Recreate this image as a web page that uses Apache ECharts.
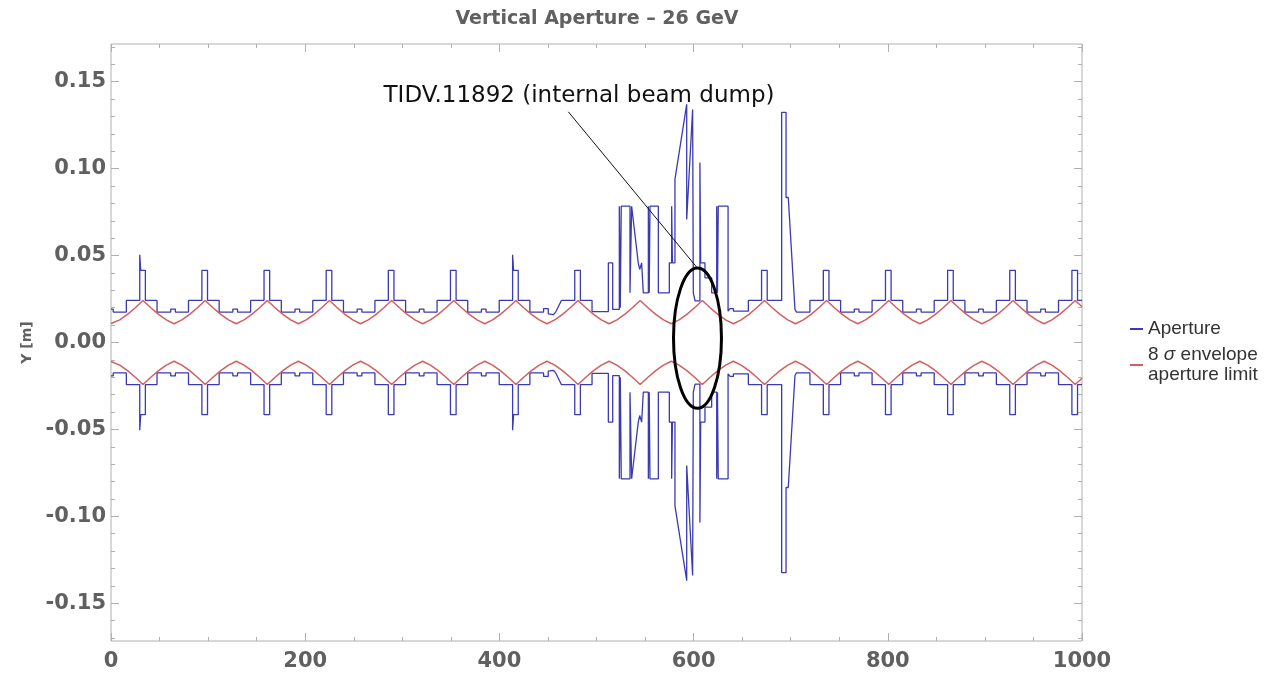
<!DOCTYPE html>
<html>
<head>
<meta charset="utf-8">
<script src="https://cdn.jsdelivr.net/npm/echarts/dist/echarts.min.js"></script>
<style>html,body{margin:0;padding:0;background:#fff;}#chart{width:1266px;height:676px;}</style>
</head>
<body>
<div id="chart"></div>
<script>
// ---------------- DATA ----------------
const titleText = 'Vertical Aperture \u2013 26 GeV';
const yAxisName = 'Y [m]';
const xTickLabels = [0, 200, 400, 600, 800, 1000];
const yTickLabels = [-0.15, -0.10, -0.05, 0.00, 0.05, 0.10, 0.15];
const yMinorTicks = [-0.17,-0.16,-0.14,-0.13,-0.12,-0.11,-0.09,-0.08,-0.07,-0.06,-0.04,-0.03,-0.02,-0.01,
                     0.01,0.02,0.03,0.04,0.06,0.07,0.08,0.09,0.11,0.12,0.13,0.14,0.16,0.17];
const seriesNames = ['Aperture', '8 \u03c3 envelope aperture limit'];

// Aperture, upper half (s [m], y [m]); lower half is its mirror
const apertureLeft = [
  [0,0.0192],[2.3,0.0192],[2.3,0.0175],
  [15.8,0.0175],[15.8,0.0242],[29.6,0.0242],[29.6,0.0505],[30.6,0.0415],[35.4,0.0415],[35.4,0.0242],[47.4,0.0242],[47.4,0.0175],
  [61.5,0.0175],[61.5,0.0192],[66.3,0.0192],[66.3,0.0175],
  [79.8,0.0175],[79.8,0.0242],[93.6,0.0242],[93.6,0.0415],[99.4,0.0415],[99.4,0.0242],[111.4,0.0242],[111.4,0.0175],
  [125.5,0.0175],[125.5,0.0192],[130.3,0.0192],[130.3,0.0175],
  [143.8,0.0175],[143.8,0.0242],[157.6,0.0242],[157.6,0.0415],[163.4,0.0415],[163.4,0.0242],[175.4,0.0242],[175.4,0.0175],
  [189.5,0.0175],[189.5,0.0192],[194.3,0.0192],[194.3,0.0175],
  [207.8,0.0175],[207.8,0.0242],[221.6,0.0242],[221.6,0.0415],[227.4,0.0415],[227.4,0.0242],[239.4,0.0242],[239.4,0.0175],
  [253.5,0.0175],[253.5,0.0192],[258.3,0.0192],[258.3,0.0175],
  [271.8,0.0175],[271.8,0.0242],[285.6,0.0242],[285.6,0.0415],[291.4,0.0415],[291.4,0.0242],[303.4,0.0242],[303.4,0.0175],
  [317.5,0.0175],[317.5,0.0192],[322.3,0.0192],[322.3,0.0175],
  [335.8,0.0175],[335.8,0.0242],[349.6,0.0242],[349.6,0.0415],[355.4,0.0415],[355.4,0.0242],[367.4,0.0242],[367.4,0.0175],
  [381.5,0.0175],[381.5,0.0192],[386.3,0.0192],[386.3,0.0175],
  [399.8,0.0175],[399.8,0.0242],[413.6,0.0242],[413.6,0.0505],[414.6,0.0415],[419.4,0.0415],[419.4,0.0242],[431.4,0.0242],[431.4,0.0175],
  [445.5,0.0175],[445.5,0.0195],[450.3,0.0195],[450.3,0.0165],[455.5,0.016],[458,0.0175],
  [463.8,0.0242],[477.6,0.0242],[477.6,0.0415],[483.4,0.0415],[483.4,0.0242],[495.4,0.0242]
];
const apertureCenter = [
  [495.4,0.0178],[512.2,0.0178],[512.2,0.0458],[516.7,0.0458],[516.7,0.019],[523.5,0.019],[523.5,0.0784],[524.5,0.0784],
  [524.5,0.02],[525.5,0.02],[525.5,0.0784],[534.5,0.0784],[534.5,0.0286],[536.2,0.0286],[536.2,0.0784],[543,0.0458],
  [544.5,0.0458],[544.5,0.042],[546.5,0.042],[546.5,0.0458],[548.2,0.0458],[548.2,0.0286],[553.4,0.0286],[553.4,0.0784],
  [554.3,0.0784],[554.3,0.0286],[555.1,0.0286],[555.1,0.0784],[563.7,0.0784],[563.7,0.0286],[575,0.0286],[575,0.0458],
  [577.4,0.0458],[577.4,0.0784],[578.2,0.0784],[578.2,0.0458],[580.8,0.0458],[580.8,0.094],[592.9,0.137],[592.9,0.0707],
  [599,0.134],[599.7,0.134],[599.7,0.0286],[601.5,0.0286],[601.5,0.024],[606.5,0.024],[606.5,0.1035],[607.3,0.1035],
  [607.3,0.0458],[611.7,0.0458],[611.7,0.0372],[618.6,0.0372],[618.6,0.0286],[623.8,0.0286],[623.8,0.0784],[624.6,0.0784],
  [624.6,0.0286],[625.4,0.0286],[625.4,0.0784],[635.5,0.0784],[635.5,0.018],[637.5,0.018],[637.5,0.0195],[641,0.0195],
  [641,0.018],[656.4,0.018],[656.4,0.0242],[670,0.0242],[670,0.0415],[675.8,0.0415],[675.8,0.0242],[690.7,0.0242],
  [690.7,0.1324],[695.2,0.1324],[695.2,0.0834],[697.5,0.0834],[704.4,0.019],[706,0.019],[706,0.0175]
];
const apertureRight = [
  [719.8,0.0175],[719.8,0.0242],[733.6,0.0242],[733.6,0.0415],[739.4,0.0415],[739.4,0.0242],[751.4,0.0242],[751.4,0.0175],
  [765.5,0.0175],[765.5,0.0192],[770.3,0.0192],[770.3,0.0175],
  [783.8,0.0175],[783.8,0.0242],[797.6,0.0242],[797.6,0.0415],[803.4,0.0415],[803.4,0.0242],[815.4,0.0242],[815.4,0.0175],
  [829.5,0.0175],[829.5,0.0192],[834.3,0.0192],[834.3,0.0175],
  [847.8,0.0175],[847.8,0.0242],[861.6,0.0242],[861.6,0.0415],[867.4,0.0415],[867.4,0.0242],[879.4,0.0242],[879.4,0.0175],
  [893.5,0.0175],[893.5,0.0192],[898.3,0.0192],[898.3,0.0175],
  [911.8,0.0175],[911.8,0.0242],[925.6,0.0242],[925.6,0.0415],[931.4,0.0415],[931.4,0.0242],[943.4,0.0242],[943.4,0.0175],
  [957.5,0.0175],[957.5,0.0192],[962.3,0.0192],[962.3,0.0175],
  [975.8,0.0175],[975.8,0.0242],[989.6,0.0242],[989.6,0.0415],[995.4,0.0415],[995.4,0.0242],[1000,0.0242]
];

// 8 sigma envelope, upper half (lower half is its mirror)
const envelope = [
  [0,0.0109],
  [1,0.0108],[9,0.0130],[17,0.0162],[25,0.0200],[33,0.0242],[41,0.0200],[49,0.0162],[57,0.0130],
  [65,0.0108],[73,0.0130],[81,0.0162],[89,0.0200],[97,0.0242],[105,0.0200],[113,0.0162],[121,0.0130],
  [129,0.0108],[137,0.0130],[145,0.0162],[153,0.0200],[161,0.0242],[169,0.0200],[177,0.0162],[185,0.0130],
  [193,0.0108],[201,0.0130],[209,0.0162],[217,0.0200],[225,0.0242],[233,0.0200],[241,0.0162],[249,0.0130],
  [257,0.0108],[265,0.0130],[273,0.0162],[281,0.0200],[289,0.0242],[297,0.0200],[305,0.0162],[313,0.0130],
  [321,0.0108],[329,0.0130],[337,0.0162],[345,0.0200],[353,0.0242],[361,0.0200],[369,0.0162],[377,0.0130],
  [385,0.0108],[393,0.0130],[401,0.0162],[409,0.0200],[417,0.0242],[425,0.0200],[433,0.0162],[441,0.0130],
  [449,0.0108],[457,0.0130],[465,0.0162],[473,0.0200],[481,0.0242],[489,0.0200],[497,0.0162],[505,0.0130],
  [513,0.0108],[521,0.0130],[529,0.0162],[537,0.0200],[545,0.0242],[553,0.0200],[561,0.0162],[569,0.0130],
  [577,0.0108],[585,0.0130],[593,0.0162],[601,0.0200],[609,0.0242],[617,0.0200],[625,0.0162],[633,0.0130],
  [641,0.0108],[649,0.0130],[657,0.0162],[665,0.0200],[673,0.0242],[681,0.0200],[689,0.0162],[697,0.0130],
  [705,0.0108],[713,0.0130],[721,0.0162],[729,0.0200],[737,0.0242],[745,0.0200],[753,0.0162],[761,0.0130],
  [769,0.0108],[777,0.0130],[785,0.0162],[793,0.0200],[801,0.0242],[809,0.0200],[817,0.0162],[825,0.0130],
  [833,0.0108],[841,0.0130],[849,0.0162],[857,0.0200],[865,0.0242],[873,0.0200],[881,0.0162],[889,0.0130],
  [897,0.0108],[905,0.0130],[913,0.0162],[921,0.0200],[929,0.0242],[937,0.0200],[945,0.0162],[953,0.0130],
  [961,0.0108],[969,0.0130],[977,0.0162],[985,0.0200],[993,0.0242],[1000,0.0206]
];

// Annotation (data coordinates)
const annotationText = 'TIDV.11892 (internal beam dump)';
const annotationLabelPos = [482, 0.1415];
const annotationPointer = [[471, 0.1327], [603.5, 0.0431]];
const ellipseCenter = [604, 0.0025];
const ellipseRadii = [24.7, 0.0403];

// ---------------- CHART ----------------
const apertureUpper = apertureLeft.concat(apertureCenter, apertureRight);
const apertureLower = apertureUpper.map(p => [p[0], -p[1]]);
const envelopeLower = envelope.map(p => [p[0], -p[1]]);

const BLUE = '#3a3ab4';
const RED = '#d45f5f';
const FRAME = '#b0b0b0';
const LABEL = '#606060';
const YMIN = -0.1717, YMAX = 0.1717;

const chart = echarts.init(document.getElementById('chart'), null, {renderer: 'canvas'});

function yAxisCfg(pos, values, len, labels) {
  return {
    type: 'value', position: pos, min: YMIN, max: YMAX,
    axisLine: {show: false, onZero: false}, splitLine: {show: false},
    axisTick: {show: true, inside: true, length: len, customValues: values, lineStyle: {color: FRAME, width: 1}},
    axisLabel: labels ? {
      show: true, customValues: yTickLabels, margin: 5,
      fontFamily: 'DejaVu Sans', fontWeight: 'bold', fontSize: 21, color: LABEL,
      formatter: v => (Math.abs(v) < 1e-9 ? 0 : v).toFixed(2)
    } : {show: false}
  };
}
function xAxisCfg(pos, labels) {
  return {
    type: 'value', position: pos, min: 0, max: 1000, interval: 200,
    axisLine: {show: false, onZero: false}, splitLine: {show: false},
    axisTick: {show: true, inside: true, length: 8, lineStyle: {color: FRAME}},
    minorTick: {show: true, splitNumber: 4, length: 4, lineStyle: {color: FRAME}},
    axisLabel: labels ? {show: true, margin: 10, fontFamily: 'DejaVu Sans', fontWeight: 'bold', fontSize: 21,
      color: LABEL, customValues: xTickLabels, formatter: v => String(v)} : {show: false}
  };
}

const option = {
  backgroundColor: '#fff',
  animation: false,
  title: {
    text: titleText, left: 592, top: 5, textAlign: 'center',
    textStyle: {fontFamily: 'DejaVu Sans', fontWeight: 'bold', fontSize: 19, color: LABEL}
  },
  grid: {left: 111, right: 184, top: 44, bottom: 35, show: true, borderColor: FRAME, borderWidth: 1, backgroundColor: '#fff'},
  legend: {
    orient: 'vertical', left: 1125, top: 314, itemWidth: 13, itemHeight: 2, icon: 'rect', itemGap: 6,
    data: seriesNames,
    formatter: n => n === seriesNames[1] ? '8 {i|\u03c3} envelope\naperture limit' : n,
    textStyle: {
      fontFamily: 'Liberation Sans', fontSize: 19, color: '#333', lineHeight: 20,
      rich: {i: {fontFamily: 'Liberation Sans', fontSize: 19, fontStyle: 'italic', color: '#333', lineHeight: 20}}
    }
  },
  xAxis: [xAxisCfg('bottom', true), xAxisCfg('top', false)],
  yAxis: [
    Object.assign(yAxisCfg('left', yTickLabels, 8, true), {
      name: yAxisName, nameLocation: 'middle', nameRotate: 90, nameGap: 66,
      nameTextStyle: {fontFamily: 'DejaVu Sans', fontWeight: 'bold', fontSize: 14, color: LABEL}
    }),
    yAxisCfg('left', yMinorTicks, 4, false),
    yAxisCfg('right', yTickLabels, 8, false),
    yAxisCfg('right', yMinorTicks, 4, false)
  ],
  series: [
    {name: seriesNames[0], type: 'line', data: apertureUpper, showSymbol: false, symbol: 'none',
     lineStyle: {color: BLUE, width: 1.3}, itemStyle: {color: BLUE}, z: 2},
    {name: seriesNames[0], type: 'line', data: apertureLower, showSymbol: false, symbol: 'none',
     lineStyle: {color: BLUE, width: 1.3}, itemStyle: {color: BLUE}, z: 2},
    {name: seriesNames[1], type: 'line', data: envelope, showSymbol: false, symbol: 'none',
     lineStyle: {color: RED, width: 1.5}, itemStyle: {color: RED}, z: 3},
    {name: seriesNames[1], type: 'line', data: envelopeLower, showSymbol: false, symbol: 'none',
     lineStyle: {color: RED, width: 1.5}, itemStyle: {color: RED}, z: 3},
    {
      name: 'annotation', type: 'custom', silent: true, z: 10, clip: false,
      data: [[ellipseCenter[0], ellipseCenter[1]]],
      renderItem: function (params, api) {
        const c = api.coord(ellipseCenter);
        const s = api.size(ellipseRadii);
        const p1 = api.coord(annotationPointer[0]);
        const p2 = api.coord(annotationPointer[1]);
        const t = api.coord(annotationLabelPos);
        return {
          type: 'group',
          children: [
            {type: 'line', shape: {x1: p1[0], y1: p1[1], x2: p2[0], y2: p2[1]},
             style: {stroke: '#111', lineWidth: 1}},
            {type: 'ellipse', shape: {cx: c[0], cy: c[1], rx: s[0], ry: s[1]},
             style: {fill: null, stroke: '#000', lineWidth: 3}},
            {type: 'text', x: t[0], y: t[1],
             style: {text: annotationText, fill: '#111', fontFamily: 'DejaVu Sans', fontSize: 23,
                     align: 'center', verticalAlign: 'middle'}}
          ]
        };
      }
    }
  ]
};
chart.setOption(option);
</script>
</body>
</html>
